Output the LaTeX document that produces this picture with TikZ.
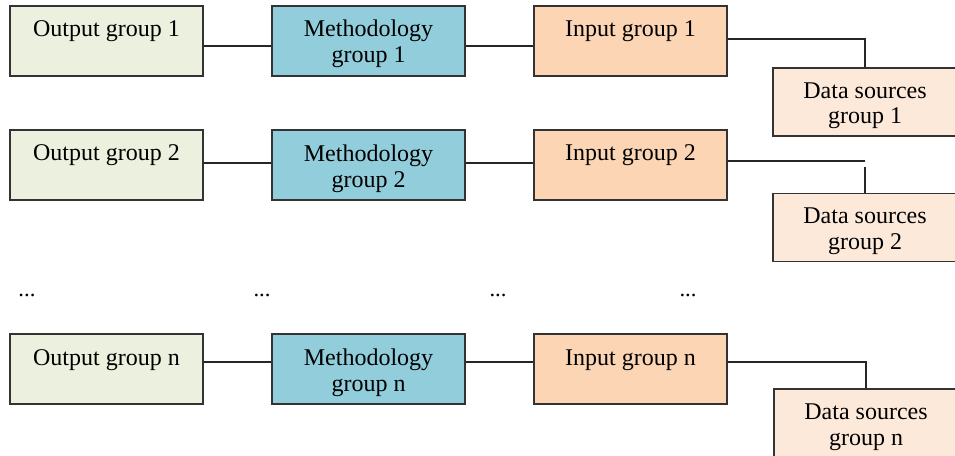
\documentclass[tikz,border=0pt]{standalone}
\usepackage{fontspec}
\setmainfont{Liberation Serif}
\usepackage{tikz}

\definecolor{outfill}{RGB}{235,241,222}
\definecolor{methfill}{RGB}{146,205,220}
\definecolor{inpfill}{RGB}{252,213,181}
\definecolor{dsfill}{RGB}{253,233,217}

\tikzset{
  box/.style={draw=black!80, line width=0.9pt, inner sep=0pt, align=center,
    minimum width=144.75pt, minimum height=52.5pt,
    text height=37.5pt, text depth=4.5pt,
    font=\fontsize{18}{19.5}\selectfont},
  oneline/.style={box, text height=18pt, text depth=24pt},
  dsbox/.style={box, fill=dsfill, minimum width=138pt, minimum height=51pt},
  link/.style={draw=black!85, line width=0.8pt},
  dots/.style={font=\fontsize{17}{19}\selectfont, inner sep=0pt}
}

\begin{document}
\begin{tikzpicture}[x=0.75pt,y=0.75pt,yscale=-1,xscale=1]
\useasboundingbox (0,0) rectangle (955,456);

%Row 1
\node [oneline, fill=outfill] (out1)  at (106.5,41) {Output group 1};
\node [box, fill=methfill]    (meth1) at (368.5,41) {Methodology\\group 1};
\node [oneline, fill=inpfill] (inp1)  at (630.5,41) {Input group 1};
\node [dsbox]                 (ds1)   at (865,102)  {Data sources\\group 1};

%Row 2
\node [oneline, fill=outfill] (out2)  at (106.5,165) {Output group 2};
\node [box, fill=methfill]    (meth2) at (368.5,165) {Methodology\\group 2};
\node [oneline, fill=inpfill] (inp2)  at (630.5,165) {Input group 2};
\node [dsbox]                 (ds2)   at (865,227.5) {Data sources\\group 2};

%Dots
\node [dots] (dot1) at (27,295)  {...};
\node [dots] (dot2) at (262,295) {...};
\node [dots] (dot3) at (498,295) {...};
\node [dots] (dot4) at (688,295) {...};

%Row n
\node [oneline, fill=outfill] (outn)  at (106.5,369) {Output group n};
\node [box, fill=methfill]    (methn) at (368.5,369) {Methodology\\group n};
\node [oneline, fill=inpfill] (inpn)  at (630.5,369) {Input group n};
\node [dsbox]                 (dsn)   at (866,423)   {Data sources\\group n};

%Connectors row 1
\draw [link] ([yshift=3.75pt]out1.east) -- ([yshift=3.75pt]meth1.west);
\draw [link] ([yshift=3.75pt]meth1.east) -- ([yshift=3.75pt]inp1.west);
\draw [link] ([yshift=-1.5pt]inp1.east) -| (ds1.north);

%Connectors row 2
\draw [link] ([yshift=-1.5pt]out2.east) -- ([yshift=-1.5pt]meth2.west);
\draw [link] ([yshift=-1.5pt]meth2.east) -- ([yshift=-1.5pt]inp2.west);
\coordinate (bend2) at (865,161);
\draw [link] (inp2.east |- bend2) -- (bend2);
\draw [link] (ds2.north) -- ++(0,-26);

%Connectors row n
\draw [link] ([yshift=-5.25pt]outn.east) -- ([yshift=-5.25pt]methn.west);
\draw [link] ([yshift=-5.25pt]methn.east) -- ([yshift=-5.25pt]inpn.west);
\draw [link] ([yshift=-5.25pt]inpn.east) -| (dsn.north);

\end{tikzpicture}
\end{document}
